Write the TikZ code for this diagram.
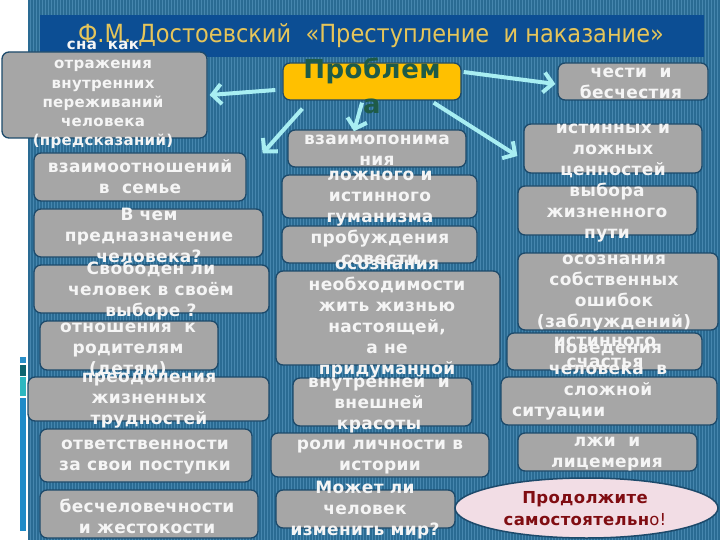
\documentclass[tikz,border=0pt]{standalone}
\usepackage{fontspec}
\setmainfont{DejaVu Sans}
\newfontfamily\bx[LetterSpace=2]{DejaVu Sans}
\newfontfamily\tfont[FakeStretch=0.9]{DejaVu Sans}
\usetikzlibrary{arrows.meta,shapes.geometric}
\definecolor{panel}{HTML}{2A6B93}
\definecolor{stripe}{HTML}{4686AE}
\definecolor{titlebar}{HTML}{0C4E94}
\definecolor{titletext}{HTML}{E6C55A}
\definecolor{boxfill}{HTML}{A6A6A6}
\definecolor{boxline}{HTML}{1D4A6B}
\definecolor{gold}{HTML}{FFC000}
\definecolor{goldtext}{HTML}{1E5B48}
\definecolor{arrowc}{HTML}{A8EEF2}
\definecolor{pinkfill}{HTML}{F2DDE5}
\definecolor{redtext}{HTML}{800D12}
\definecolor{barA}{HTML}{2A8FC8}
\definecolor{barB}{HTML}{0E6570}
\definecolor{barC}{HTML}{2DB7C0}
\definecolor{barD}{HTML}{1E8BC8}
\tikzset{
 gbox/.style={draw=boxline, fill=boxfill, rounded corners=7pt, line width=1.3pt, inner sep=0pt},
 gtext/.style={text=white!96!black, align=center, inner sep=0pt, font=\bx\bfseries\fontsize{17}{21}\selectfont},
 arr/.style={draw=arrowc, line width=4pt, -{Straight Barb[length=9pt,width=20pt]}},
}
\newcommand\mkbox[6][gbox]{\node[#1, minimum width={(#5)-(#3)}, minimum height={(#6)-(#4)}] (#2) at ({((#3)+(#5))/2},{((#4)+(#6))/2}) {};}
\begin{document}
\begin{tikzpicture}[x=1pt,y=-1pt]
\useasboundingbox (0,0) rectangle (720,540);
\fill[white] (0,0) rectangle (720,540);
\fill[panel] (28,0) rectangle (720,540);
\foreach \x in {30,33,...,719} \draw[stripe, line width=0.9pt] (\x,0) -- (\x,540);
% decorative bars
\fill[barA] (20,357) rectangle (26,363);
\fill[barB] (20,365) rectangle (26,376);
\fill[barC] (20,377) rectangle (26,396);
\fill[barD] (20,398) rectangle (26,531);
% title
\fill[titlebar] (40,15) rectangle (704,57);
\node[text=titletext, font=\tfont\fontsize{25}{28}\selectfont, inner sep=0pt] (title) at (371,36) {Ф.М. Достоевский~ «Преступление~ и наказание»};
% boxes
\mkbox{A}{2}{52}{207}{138}
\mkbox[gbox,fill=gold,draw=boxline]{P}{283}{63}{461}{100}
\mkbox{B}{558}{63}{708}{100}
\mkbox{C}{288}{130}{466}{167}
\mkbox{D}{524}{124}{702}{173}
\mkbox{E}{34}{153}{246}{201}
\mkbox{F}{282}{175}{477}{218}
\mkbox{G}{518}{186}{697}{235}
\mkbox{H}{34}{209}{263}{257}
\mkbox{I}{282}{226}{477}{263}
\mkbox{J}{34}{265}{269}{313}
\mkbox{K}{276}{271}{500}{365}
\mkbox{L}{518}{253}{718}{330}
\mkbox{M}{40}{321}{218}{370}
\mkbox{N}{507}{333}{702}{370}
\mkbox{O}{501}{377}{717}{425}
\mkbox{Q}{28}{377}{269}{421}
\mkbox{R}{293}{378}{472}{426}
\mkbox{S}{40}{429}{252}{482}
\mkbox{T}{271}{433}{489}{477}
\mkbox{U}{518}{433}{697}{471}
\mkbox{V}{40}{490}{258}{538}
\mkbox{W}{276}{490}{455}{528}
\node[ellipse, draw=boxline, line width=1.5pt, fill=pinkfill, minimum width=263, minimum height=60, inner sep=0pt] (X) at (586.5,508) {};
% arrows
\draw[arr] ([xshift=-7pt,yshift=-8.5pt]P.west) -- ([xshift=2pt]A.east);
\draw[arr] ([xshift=2pt,yshift=9.5pt]P.east) -- ([xshift=-2pt,yshift=-2.5pt]B.west);
\draw[arr] ([xshift=20pt,yshift=-8pt]P.south west) -- ([xshift=16pt,yshift=-1pt]E.north east);
\draw[arr] ([xshift=-10pt,yshift=-2pt]P.south) -- ([xshift=-23pt,yshift=-2pt]C.north);
\draw[arr] ([xshift=-28pt,yshift=-2pt]P.south east) -- ([xshift=-6pt,yshift=-7.5pt]D.west);
% texts
\node[gtext, font=\bx\bfseries\fontsize{15}{19.2}\selectfont] (tA) at (103,95) {сна~ как\\отражения\\внутренних\\переживаний\\человека\\(предсказаний)};
\node[gtext, text=goldtext, font=\bx\bfseries\fontsize{26}{35}\selectfont] (tP) at (372,85.5) {Проблем\\а};
\node[gtext] (tB) at (631,83) {чести~ и\\бесчестия};
\node[gtext] (tC) at (377,150.5) {взаимопонима\\ния};
\node[gtext] (tD) at (613,151) {истинных и\\ложных\\ценностей};
\node[gtext] (tE) at (140,176.5) {взаимоотношений\\в~ семье};
\node[gtext] (tF) at (380,199) {ложного и\\истинного\\гуманизма};
\node[gtext] (tG) at (607,212.5) {выбора\\жизненного\\пути};
\node[gtext] (tH) at (149,235.5) {В чем\\предназначение\\человека?};
\node[gtext] (tI) at (380,247) {пробуждения\\совести};
\node[gtext] (tJ) at (151,291) {Свободен ли\\человек в своём\\выборе ?};
\node[gtext] (tK) at (387,319) {осознания\\необходимости\\жить жизнью\\настоящей,\\а не\\придуманной};
\node[gtext] (tL) at (614,293.5) {осознания\\собственных\\ошибок\\(заблуждений)};
\node[gtext] (tM) at (128,349.5) {отношения~ к\\родителям\\(детям)};
\node[gtext] (tN) at (605,352.5) {истинного\\счастья};
\node[gtext] (tO) at (608,382) {поведения\\человека~ в\\сложной\\\makebox[192pt][l]{ситуации}};
\node[gtext] (tQ) at (149,400.5) {преодоления\\жизненных\\трудностей};
\node[gtext] (tR) at (379,404) {внутренней~ и\\внешней\\красоты};
\node[gtext] (tS) at (145,457.5) {ответственности\\за свои поступки};
\node[gtext] (tT) at (380,457) {роли личности в\\истории};
\node[gtext] (tU) at (607,454.5) {лжи~ и\\лицемерия};
\node[gtext] (tV) at (147,516) {бесчеловечности\\и жестокости};
\node[gtext] (tW) at (365,510) {Может ли\\человек\\изменить мир?};
\node[gtext, text=redtext, font=\bx\bfseries\fontsize{16.5}{22}\selectfont] (tX) at (585,509) {Продолжите\\самостоятельн{\mdseries о!}};
\end{tikzpicture}
\end{document}
